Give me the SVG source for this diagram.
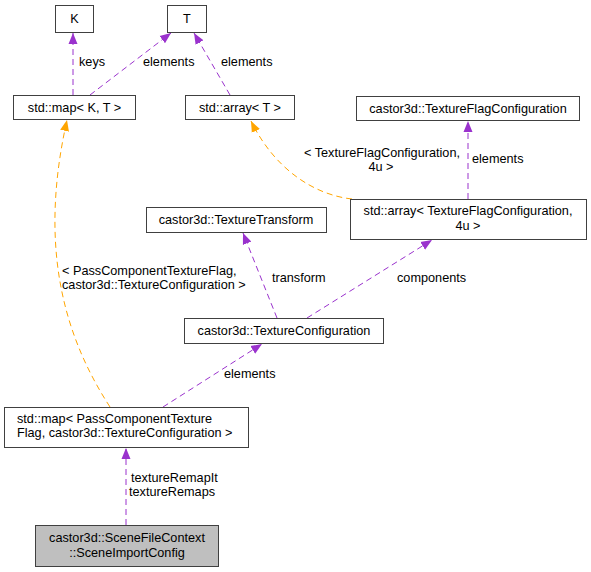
<svg xmlns="http://www.w3.org/2000/svg" width="591" height="572" viewBox="0 0 591 572">
<style>
text{font-family:"Liberation Sans",Arial,sans-serif;font-size:12.7px;fill:#000}
.c{text-anchor:middle}
.box{fill:#fff;stroke:#404040;stroke-width:1}
.p{fill:none;stroke:#9a32cd;stroke-width:1;stroke-dasharray:6,4}
.o{fill:none;stroke:#ffa500;stroke-width:1;stroke-dasharray:6,4}
</style>
<defs>
<marker id="ap" markerUnits="userSpaceOnUse" markerWidth="12" markerHeight="10" refX="11" refY="5" orient="auto"><path d="M0,0.5 L11,5 L0,9.5 z" fill="#9a32cd"/></marker>
<marker id="ao" markerUnits="userSpaceOnUse" markerWidth="12" markerHeight="10" refX="11" refY="5" orient="auto"><path d="M0,0.5 L11,5 L0,9.5 z" fill="#ffa500"/></marker>
</defs>
<rect width="591" height="572" fill="#fff"/>
<g id="edges">
<path class="p" d="M73,95 L73,33" marker-end="url(#ap)"/>
<text x="79" y="66">keys</text>
<path class="p" d="M90,95 L171,33" marker-end="url(#ap)"/>
<text x="143" y="66">elements</text>
<path class="p" d="M230,95 L194,33" marker-end="url(#ap)"/>
<text x="221" y="66">elements</text>
<path class="o" d="M110,407 C60,330 40,240 67,120" marker-end="url(#ao)"/>
<text x="62" y="275">&lt; PassComponentTextureFlag,</text>
<text x="62" y="289">castor3d::TextureConfiguration &gt;</text>
<path class="o" d="M352,199 C315,195 275,170 251,121" marker-end="url(#ao)"/>
<text class="c" x="382" y="157">&lt; TextureFlagConfiguration,</text>
<text class="c" x="381" y="171">4u &gt;</text>
<path class="p" d="M468,199 L468,121" marker-end="url(#ap)"/>
<text x="472" y="163">elements</text>
<path class="p" d="M277,318 L243,233" marker-end="url(#ap)"/>
<text x="272" y="282">transform</text>
<path class="p" d="M307,318 L432,240" marker-end="url(#ap)"/>
<text x="397" y="282">components</text>
<path class="p" d="M163,407 L262,344" marker-end="url(#ap)"/>
<text x="224" y="378">elements</text>
<path class="p" d="M126,525 L126,448" marker-end="url(#ap)"/>
<text x="131" y="482">textureRemapIt</text>
<text x="129" y="496">textureRemaps</text>
</g>
<g id="K"><rect class="box" x="55.5" y="5.5" width="38" height="27"/><text class="c" x="74.5" y="23">K</text></g>
<g id="T"><rect class="box" x="167.5" y="5.5" width="39" height="27"/><text class="c" x="187" y="23">T</text></g>
<g id="mapKT"><rect class="box" x="13.5" y="95.5" width="122" height="24"/><text class="c" x="74.5" y="112">std::map&lt; K, T &gt;</text></g>
<g id="arrayT"><rect class="box" x="185.5" y="95.5" width="109" height="24"/><text class="c" x="240" y="112">std::array&lt; T &gt;</text></g>
<g id="TFC"><rect class="box" x="356.5" y="96.5" width="223" height="24"/><text class="c" x="468" y="113">castor3d::TextureFlagConfiguration</text></g>
<g id="array4u"><rect class="box" x="350.5" y="199.5" width="236" height="40"/><text class="c" x="468" y="215">std::array&lt; TextureFlagConfiguration,</text><text class="c" x="468" y="230">4u &gt;</text></g>
<g id="TT"><rect class="box" x="146.5" y="207.5" width="180" height="25"/><text class="c" x="236" y="224">castor3d::TextureTransform</text></g>
<g id="TC"><rect class="box" x="184.5" y="318.5" width="199" height="25"/><text class="c" x="284" y="335">castor3d::TextureConfiguration</text></g>
<g id="mapPass"><rect class="box" x="4.5" y="407.5" width="244" height="40"/><text x="17" y="423">std::map&lt; PassComponentTexture</text><text x="17" y="437">Flag, castor3d::TextureConfiguration &gt;</text></g>
<g id="SIC"><rect x="35.5" y="525.5" width="183" height="41" fill="#bfbfbf" stroke="#404040"/><text class="c" x="127" y="542">castor3d::SceneFileContext</text><text class="c" x="127" y="557">::SceneImportConfig</text></g>
</svg>
